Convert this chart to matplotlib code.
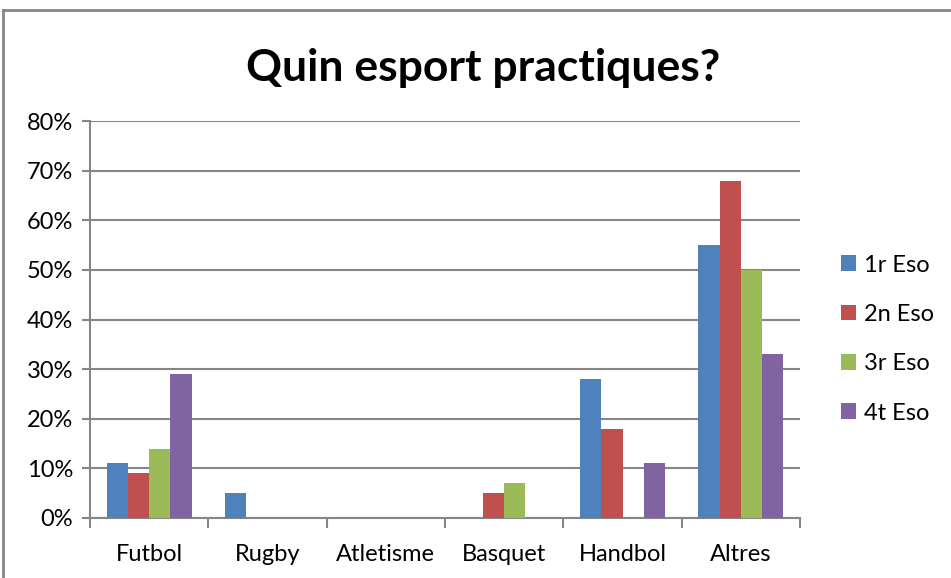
import numpy as np
import matplotlib
matplotlib.use('Agg')
import matplotlib.pyplot as plt
from matplotlib.lines import Line2D

plt.rcParams['font.family'] = ['Lato', 'DejaVu Sans']

# Data (percent)
sports = ['Futbol', 'Rugby', 'Atletisme', 'Basquet', 'Handbol', 'Altres']
cursos = ['1r Eso', '2n Eso', '3r Eso', '4t Eso']
eso1 = [11, 5, 0, 0, 28, 55]
eso2 = [9, 0, 0, 5, 18, 68]
eso3 = [14, 0, 0, 7, 0, 50]
eso4 = [29, 0, 0, 0, 11, 33]
colors = ['#4F81BD', '#C0504D', '#9BBB59', '#8064A2']

series = [eso1, eso2, eso3, eso4]
gray = '#868686'

fig = plt.figure(figsize=(9.51, 5.78), dpi=100)
W, H = 951, 578
ax = fig.add_axes([90 / W, (H - 518) / H, 710 / W, 397 / H])

x = np.arange(len(sports))
width = 0.18
for i, (vals, lab, col) in enumerate(zip(series, cursos, colors)):
    ax.bar(x + (i - 1.5) * width, vals, width, color=col, label=lab, zorder=3)

ax.set_xlim(-0.5, len(sports) - 0.5)
ax.set_ylim(0, 80)
ax.set_yticks(range(0, 81, 10))
ax.set_yticklabels([f'{v}%' for v in range(0, 81, 10)])
ax.set_xticks(x)
ax.set_xticklabels(sports)
ax.set_xticks(np.arange(-0.5, len(sports), 1), minor=True)

ax.yaxis.grid(True, color=gray, linewidth=1.5, zorder=0)
ax.tick_params(axis='x', which='major', length=0, labelsize=17, pad=19)
ax.tick_params(axis='x', which='minor', length=7, width=1.5, color=gray, direction='out')
ax.tick_params(axis='y', length=6, width=1.5, color=gray, labelsize=17, pad=6)
for side in ['top', 'right']:
    ax.spines[side].set_visible(False)
for side in ['left', 'bottom']:
    ax.spines[side].set_color(gray)
    ax.spines[side].set_linewidth(1.5)

fig.text(483 / W, 1 - 68 / H, 'Quin esport practiques?', ha='center', va='center',
         fontsize=32, fontweight='bold')

ax.legend(loc='center left', bbox_to_anchor=(829 / W, 1 - 339 / H), bbox_transform=fig.transFigure,
          frameon=False, fontsize=17, handlelength=0.65, handleheight=0.65,
          handletextpad=0.35, labelspacing=1.2, borderpad=0)

# outer chart border
fig.add_artist(Line2D([3 / W, 1], [1 - 10 / H, 1 - 10 / H], transform=fig.transFigure, color=gray, linewidth=2))
fig.add_artist(Line2D([3 / W, 3 / W], [0, 1 - 10 / H], transform=fig.transFigure, color=gray, linewidth=2))

plt.savefig('out.png', dpi=100)
